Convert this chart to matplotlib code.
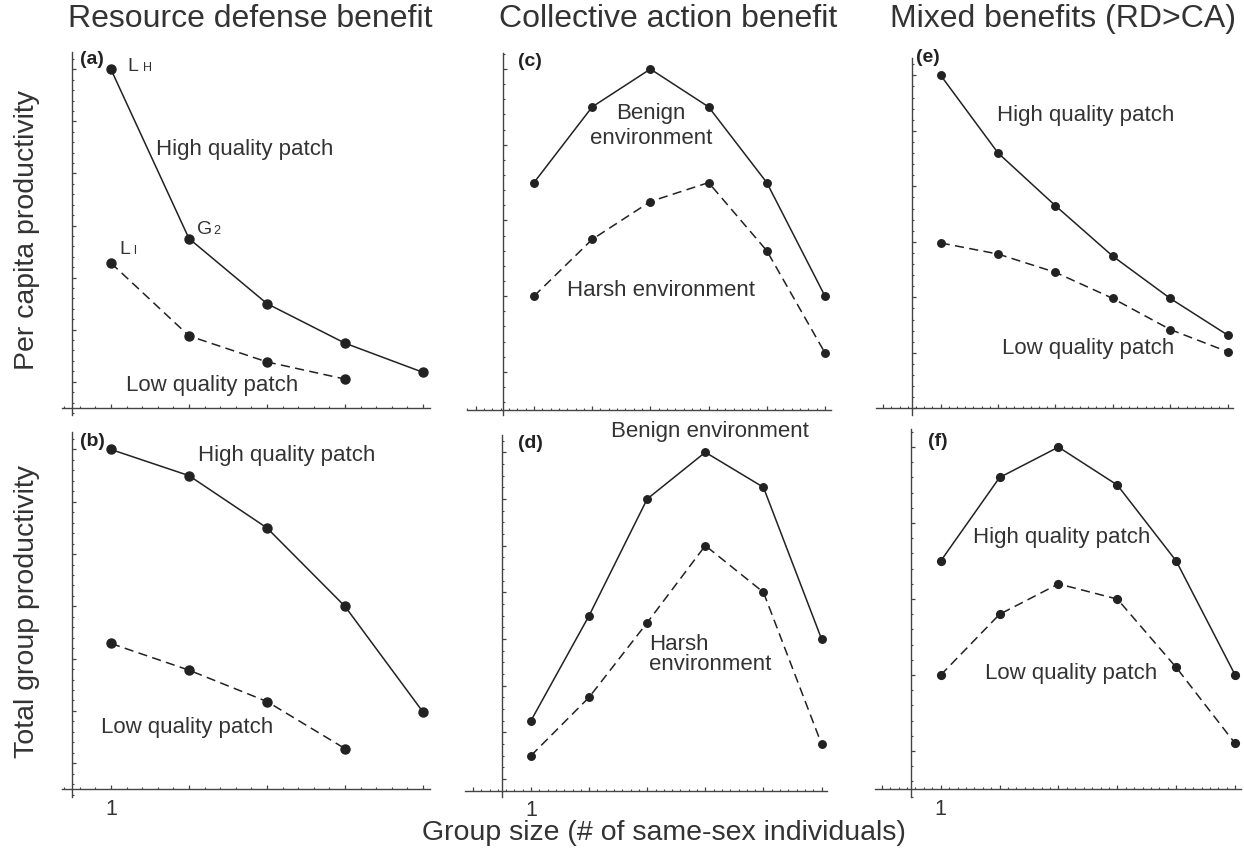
import matplotlib
matplotlib.use('Agg')
import matplotlib.pyplot as plt
from matplotlib.ticker import MultipleLocator, FuncFormatter

plt.rcParams['font.family'] = ['Liberation Sans', 'DejaVu Sans']

W, H = 1244, 851
INK = '#222222'
TXT = '#333333'

# group sizes
size_rd = [1, 2, 3, 4, 5]
size_rd_low = [1, 2, 3, 4]
size_ca = [1, 2, 3, 4, 5, 6]

# (a) per capita productivity, resource defense benefit
a_high = [7.0, 3.75, 2.5, 1.74, 1.18]
a_low = [3.28, 1.88, 1.38, 1.05]
# (b) total group productivity, resource defense benefit
b_high = [7.0, 6.5, 5.5, 4.0, 1.98]
b_low = [3.29, 2.78, 2.18, 1.28]
# (c) per capita productivity, collective action benefit
c_benign = [3.5, 4.5, 5.0, 4.5, 3.5, 2.0]
c_harsh = [2.0, 2.75, 3.25, 3.5, 2.6, 1.25]
# (d) total group productivity, collective action benefit
d_benign = [2.25, 4.5, 7.0, 8.0, 7.25, 4.0]
d_harsh = [1.5, 2.75, 4.35, 6.0, 5.0, 1.75]
# (e) per capita productivity, mixed benefits
e_high = [6.0, 4.6, 3.65, 2.74, 1.98, 1.32]
e_low = [2.98, 2.78, 2.45, 1.98, 1.42, 1.02]
# (f) total group productivity, mixed benefits
f_high = [3.5, 4.6, 5.0, 4.5, 3.5, 2.0]
f_low = [2.0, 2.8, 3.2, 3.0, 2.1, 1.1]

titles = ['Resource defense benefit', 'Collective action benefit', 'Mixed benefits (RD>CA)']
ylabels = ['Per capita productivity', 'Total group productivity']
xlabel = 'Group size (# of same-sex individuals)'

fig = plt.figure(figsize=(W / 100, H / 100), dpi=100)


def px_text(x, y, s, **kw):
    kw.setdefault('color', TXT)
    return fig.text(x / W, 1 - y / H, s, **kw)


# panel layout: pixel box, limits, axes origin, tick steps, marker size
panels = [
    dict(tag='(a)', box=(62, 51.7, 430, 415), xlim=(0.372, 5.09), ylim=(0.36, 7.34),
         org=(0.5, 0.5), xminor=0.2, yminor=0.2, ms=6.5, label1=False,
         series=[(size_rd, a_high, '-'), (size_rd_low, a_low, '--')]),
    dict(tag='(b)', box=(62, 431.7, 430, 796.7), xlim=(0.372, 5.09), ylim=(0.36, 7.34),
         org=(0.5, 0.5), xminor=0.2, yminor=0.2, ms=6.5, label1=True,
         series=[(size_rd, b_high, '-'), (size_rd_low, b_low, '--')]),
    dict(tag='(c)', box=(466.7, 52.7, 830.7, 415), xlim=(-0.156, 6.098), ylim=(0.43, 5.216),
         org=(0.47, 0.5), xminor=1 / 7, yminor=0.2, ms=5.4, label1=False,
         series=[(size_ca, c_benign, '-'), (size_ca, c_harsh, '--')]),
    dict(tag='(d)', box=(465, 435, 826.7, 796.7), xlim=(-0.136, 6.089), ylim=(0.62, 8.37),
         org=(0.5, 0.75), xminor=1 / 7, yminor=0.25, ms=5.4, label1=True,
         series=[(size_ca, d_benign, '-'), (size_ca, d_harsh, '--')]),
    dict(tag='(e)', box=(876, 58.3, 1233, 415), xlim=(-0.127, 6.093), ylim=(-0.12, 6.307),
         org=(0.5, 0.0), xminor=1 / 7, yminor=0.2, ms=5.4, label1=False,
         series=[(size_ca, e_high, '-'), (size_ca, e_low, '--')]),
    dict(tag='(f)', box=(875, 429.3, 1241, 796.7), xlim=(-0.115, 6.099), ylim=(0.40, 5.234),
         org=(0.5, 0.5), xminor=1 / 7, yminor=0.2, ms=5.6, label1=True,
         series=[(size_ca, f_high, '-'), (size_ca, f_low, '--')]),
]

for p in panels:
    x0, y0, x1, y1 = p['box']
    ax = fig.add_axes([x0 / W, 1 - y1 / H, (x1 - x0) / W, (y1 - y0) / H])
    ax.patch.set_alpha(0)
    for xs, ys, ls in p['series']:
        line, = ax.plot(xs, ys, ls, color=INK, lw=1.1, marker='o', ms=p['ms'],
                        mfc=INK, mec=INK, clip_on=False)
        if ls == '--':
            line.set_dashes((6, 3.5))
    ax.set_xlim(p['xlim'])
    ax.set_ylim(p['ylim'])
    ax.spines['top'].set_visible(False)
    ax.spines['right'].set_visible(False)
    ax.spines['left'].set_position(('data', p['org'][0]))
    ax.spines['bottom'].set_position(('data', p['org'][1]))
    for s in ('left', 'bottom'):
        ax.spines[s].set_color('#444444')
        ax.spines[s].set_linewidth(1.0)
    ax.xaxis.set_major_locator(MultipleLocator(1))
    ax.xaxis.set_minor_locator(MultipleLocator(p['xminor']))
    ax.yaxis.set_major_locator(MultipleLocator(1))
    ax.yaxis.set_minor_locator(MultipleLocator(p['yminor']))
    if p['label1']:
        ax.xaxis.set_major_formatter(FuncFormatter(lambda v, pos: '1' if abs(v - 1) < 1e-6 else ''))
    else:
        ax.xaxis.set_major_formatter(FuncFormatter(lambda v, pos: ''))
    ax.yaxis.set_major_formatter(FuncFormatter(lambda v, pos: ''))
    ax.tick_params(which='major', direction='in', length=3.2, width=0.9, color='#444444',
                   labelsize=15.5, labelcolor=TXT, pad=7)
    ax.tick_params(which='minor', direction='in', length=1.7, width=0.8, color='#444444')
    ax.tick_params(axis='x', which='both', top=False)
    ax.tick_params(axis='y', which='both', right=False)

# panel tags
tags = {'(a)': (80, 59), '(b)': (80, 442), '(c)': (518, 61), '(d)': (518, 443),
        '(e)': (916, 58), '(f)': (928, 442)}
for t, (x, y) in tags.items():
    px_text(x, y, t, fontsize=14, fontweight='bold', va='center', ha='left', color='#222222')

# column titles and axis labels
for t, x in zip(titles, [250, 668, 1063]):
    px_text(x, 19, t, fontsize=23, ha='center', va='center')
for t, y in zip(ylabels, [230, 612]):
    px_text(27, y, t, fontsize=20.5, ha='center', va='center', rotation=90)
px_text(664, 833, xlabel, fontsize=20.5, ha='center', va='center')

# annotations
ann = 16
px_text(127, 71, 'L', fontsize=14, va='baseline')
px_text(143, 71, 'H', fontsize=9, va='baseline')
px_text(197, 234, 'G', fontsize=14, va='baseline')
px_text(213, 234, '2', fontsize=9, va='baseline')
px_text(119, 254, 'L', fontsize=14, va='baseline')
px_text(133, 254, 'l', fontsize=9, va='baseline')
px_text(245, 150, 'High quality patch', fontsize=ann, ha='center', va='center')
px_text(212, 386, 'Low quality patch', fontsize=ann, ha='center', va='center')
px_text(287, 455, 'High quality patch', fontsize=ann, ha='center', va='center')
px_text(187, 728, 'Low quality patch', fontsize=ann, ha='center', va='center')
px_text(651, 113, 'Benign', fontsize=ann, ha='center', va='center')
px_text(651, 138, 'environment', fontsize=ann, ha='center', va='center')
px_text(661, 290, 'Harsh environment', fontsize=ann, ha='center', va='center')
px_text(710, 432, 'Benign environment', fontsize=ann, ha='center', va='center')
px_text(649, 645, 'Harsh', fontsize=ann, ha='left', va='center')
px_text(649, 665, 'environment', fontsize=ann, ha='left', va='center')
px_text(1086, 116, 'High quality patch', fontsize=ann, ha='center', va='center')
px_text(1088, 348, 'Low quality patch', fontsize=ann, ha='center', va='center')
px_text(1062, 537, 'High quality patch', fontsize=ann, ha='center', va='center')
px_text(1071, 673, 'Low quality patch', fontsize=ann, ha='center', va='center')

fig.savefig('out.png', dpi=100)
